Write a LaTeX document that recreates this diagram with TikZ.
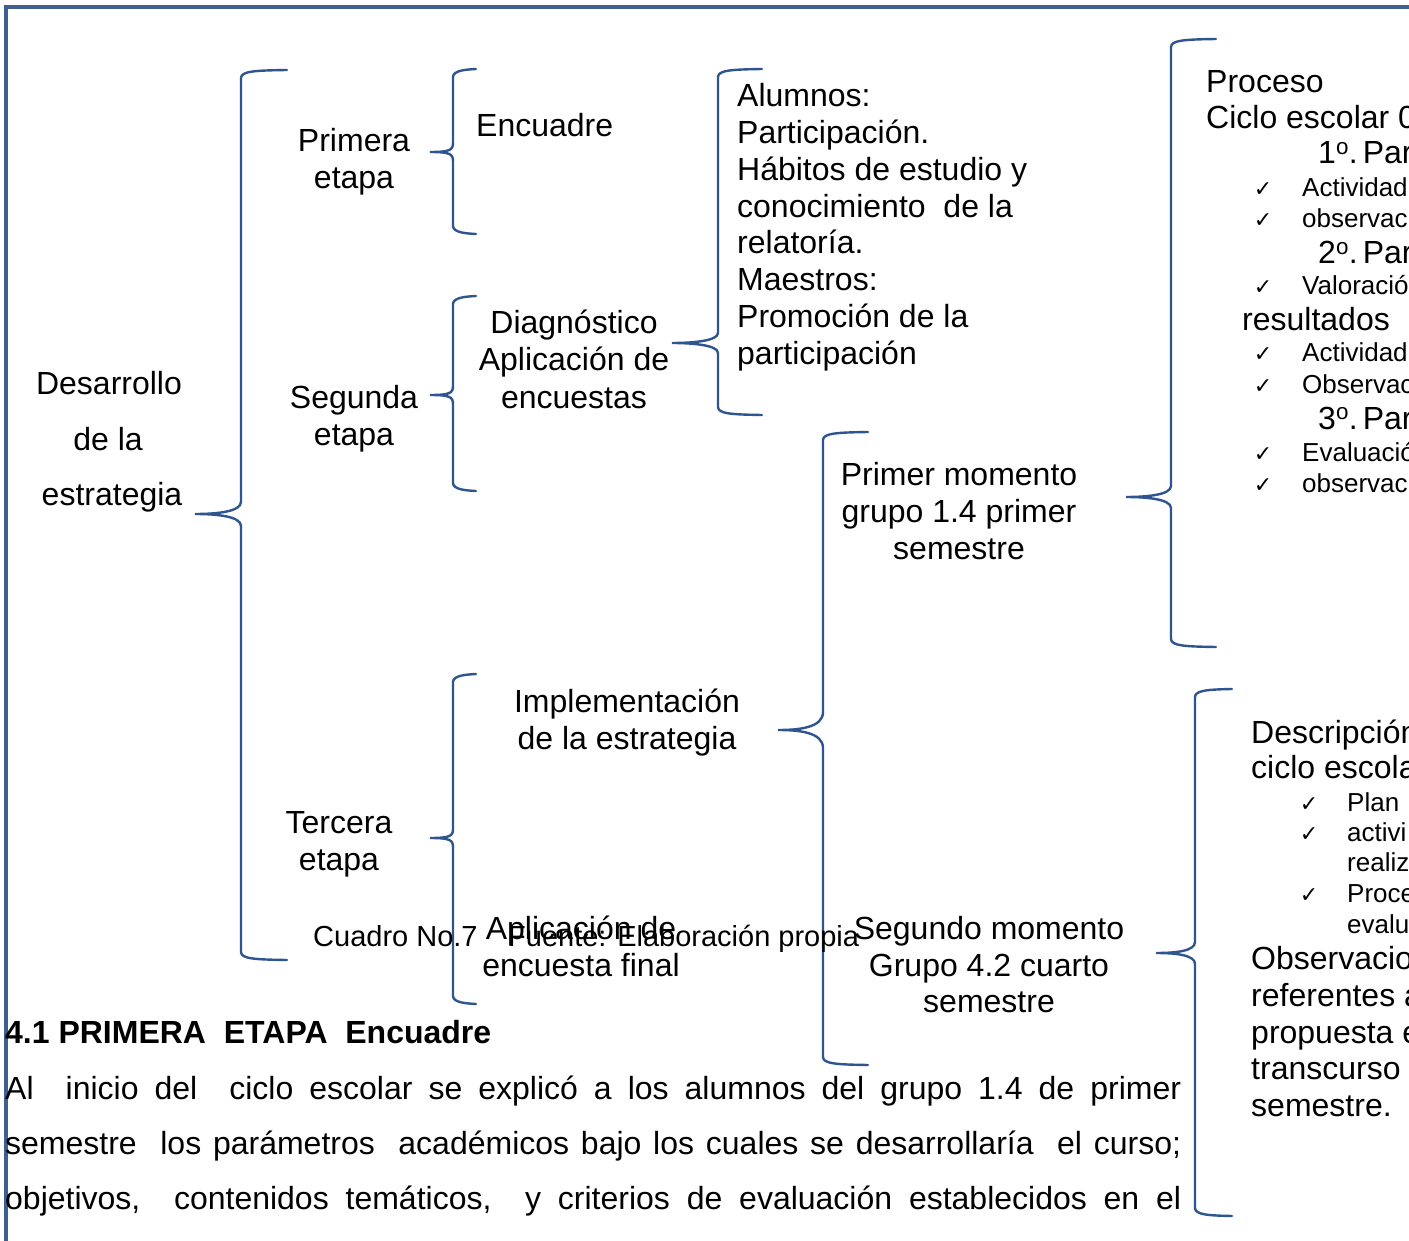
\documentclass[tikz,border=0pt]{standalone}
\usepackage{fontspec}
\setmainfont{Liberation Sans}
\newfontfamily\symfont{DejaVu Sans}
\definecolor{bracecol}{RGB}{47,85,145}
\definecolor{framecol}{RGB}{60,96,143}
\tikzset{
 brace/.style={draw=bracecol, line width=2.4pt, line cap=round},
 t32/.style={inner sep=0pt, font=\fontsize{32}{37}\selectfont},
 lt/.style={t32, anchor=base west},
 ct/.style={t32, anchor=base},
 capt/.style={inner sep=0pt, anchor=base west, font=\fontsize{29}{34}\selectfont},
 sm/.style={inner sep=0pt, anchor=base west, font=\fontsize{26}{30}\selectfont},
 ck/.style={inner sep=0pt, anchor=base, font=\symfont\fontsize{22}{26}\selectfont},
 hd/.style={inner sep=0pt, anchor=base west, font=\bfseries\fontsize{32}{37}\selectfont},
}
% #1 x of vertical, #2 top y, #3 bottom y, #4 tip x, #5 tip y, #6 hook end x, #7 tip half height
\newcommand\mybrace[7]{%
 \draw[brace] (#6,#2) .. controls (#1+15,#2+0.5) and (#1,#2+1) .. (#1,#2+8)
   -- (#1,#5-#7-4) .. controls (#1,#5-2) and (#4+20,#5) .. (#4,#5)
   .. controls (#4+20,#5) and (#1,#5+2) .. (#1,#5+#7+4)
   -- (#1,#3-8) .. controls (#1,#3-1) and (#1+15,#3-0.5) .. (#6,#3);}
\newcommand\ordpar[1]{#1\textsuperscript{o}.\kern5pt Par}
\begin{document}
\begin{tikzpicture}[x=1pt,y=-1pt]
\useasboundingbox (0,0) rectangle (1409,1241);
\clip (0,0) rectangle (1409,1241);
\fill[white] (0,0) rectangle (1409,1241);
\draw[framecol, line width=4.3pt] (6.2,1260) -- (6.2,7.2) -- (1430,7.2);

% braces
\mybrace{241}{70}{960}{195}{514}{287}{8}
\mybrace{453}{69}{234}{430}{152}{476}{5}
\mybrace{453}{296}{491}{430}{395}{476}{5}
\mybrace{718}{69}{415}{672}{343}{762}{6}
\mybrace{453}{674}{1004}{430}{838}{476}{5}
\mybrace{823}{432}{1065}{778}{730}{868}{14}
\mybrace{1171}{39}{647}{1126}{497}{1216}{7}
\mybrace{1195}{689}{1216}{1156}{953}{1232}{7}

% left column
\node[ct] (des1) at (109,395) {Desarrollo};
\node[ct] (des2) at (108,450) {de la};
\node[ct] (des3) at (112,505) {estrategia};

\node[ct] (pr1) at (354,152) {Primera};
\node[ct] (pr2) at (354,189) {etapa};
\node[lt] (enc) at (476,137) {Encuadre};

\node[ct] (sg1) at (354,409) {Segunda};
\node[ct] (sg2) at (354,446) {etapa};
\node[ct] (dg1) at (574,334) {Diagnóstico};
\node[ct] (dg2) at (574,371) {Aplicación de};
\node[ct] (dg3) at (574,408) {encuestas};

\node[lt] (al1) at (737,107) {Alumnos:};
\node[lt] (al2) at (737,144) {Participación.};
\node[lt] (al3) at (737,181) {Hábitos de estudio y};
\node[lt] (al4) at (737,218) {conocimiento\ \ de la};
\node[lt] (al5) at (737,254) {relatoría.};
\node[lt] (al6) at (737,291) {Maestros:};
\node[lt] (al7) at (737,328) {Promoción de la};
\node[lt] (al8) at (737,365) {participación};

\node[ct] (pm1) at (959,485) {Primer momento};
\node[ct] (pm2) at (959,522) {grupo 1.4 primer};
\node[ct] (pm3) at (959,559) {semestre};

\node[ct] (im1) at (627,712) {Implementación};
\node[ct] (im2) at (627,749) {de la estrategia};

\node[ct] (te1) at (339,833) {Tercera};
\node[ct] (te2) at (339,870) {etapa};

\node[ct] (ap1) at (581,939) {Aplicación de};
\node[ct] (ap2) at (581,976) {encuesta final};

\node[capt] (cap1) at (313,946) {Cuadro No.7};
\node[capt] (cap2) at (508,946) {Fuente: Elaboración propia};

\node[ct] (sm1) at (989,939) {Segundo momento};
\node[ct] (sm2) at (989,976) {Grupo 4.2 cuarto};
\node[ct] (sm3) at (989,1012) {semestre};

% top right block
\node[lt] (p1) at (1206,93) {Proceso};
\node[lt] (p2) at (1206,129) {Ciclo escolar 0};
\node[lt] (p3) at (1318,164) {\ordpar{1}};
\node[ck] (c1) at (1263,197) {✓};
\node[sm] (q1) at (1302,197) {Actividad};
\node[ck] (c2) at (1263,228) {✓};
\node[sm] (q2) at (1302,228) {observac};
\node[lt] (p4) at (1318,264) {\ordpar{2}};
\node[ck] (c3) at (1263,295) {✓};
\node[sm] (q3) at (1302,295) {Valoració};
\node[lt] (p5) at (1242,331) {resultados};
\node[ck] (c4) at (1263,362) {✓};
\node[sm] (q4) at (1302,362) {Actividad};
\node[ck] (c5) at (1263,393) {✓};
\node[sm] (q5) at (1302,393) {Observac};
\node[lt] (p6) at (1318,429) {\ordpar{3}};
\node[ck] (c6) at (1263,461) {✓};
\node[sm] (q6) at (1302,461) {Evaluació};
\node[ck] (c7) at (1263,492) {✓};
\node[sm] (q7) at (1302,492) {observac};

% bottom right block
\node[lt] (d1) at (1251,743) {Descripción};
\node[lt] (d2) at (1251,778) {ciclo escola};
\node[ck] (e1) at (1309,811) {✓};
\node[sm] (r1) at (1347,811) {Plan};
\node[ck] (e2) at (1309,841) {✓};
\node[sm] (r2) at (1347,841) {activi};
\node[sm] (r3) at (1347,871) {realiz};
\node[ck] (e3) at (1309,902) {✓};
\node[sm] (r4) at (1347,902) {Proce};
\node[sm] (r5) at (1347,933) {evalu};
\node[lt] (d3) at (1251,969) {Observacio};
\node[lt] (d4) at (1251,1006) {referentes a};
\node[lt] (d5) at (1251,1043) {propuesta e};
\node[lt] (d6) at (1251,1079) {transcurso};
\node[lt] (d7) at (1251,1116) {semestre.};

% text below
\node[hd] (h1) at (5,1043) {4.1 PRIMERA\ \ ETAPA\ \ Encuadre};
\node[lt] (b1) at (5,1099) {\makebox[1176pt][s]{Al\ \ inicio del\ \ ciclo escolar se explicó a los alumnos del grupo 1.4 de primer}};
\node[lt] (b2) at (5,1154) {\makebox[1176pt][s]{semestre\ \ los parámetros\ \ académicos bajo los cuales se desarrollaría\ \ el curso;}};
\node[lt] (b3) at (5,1209) {\makebox[1176pt][s]{objetivos,\ \ contenidos temáticos,\ \ y criterios de evaluación establecidos en el}};
\end{tikzpicture}
\end{document}
